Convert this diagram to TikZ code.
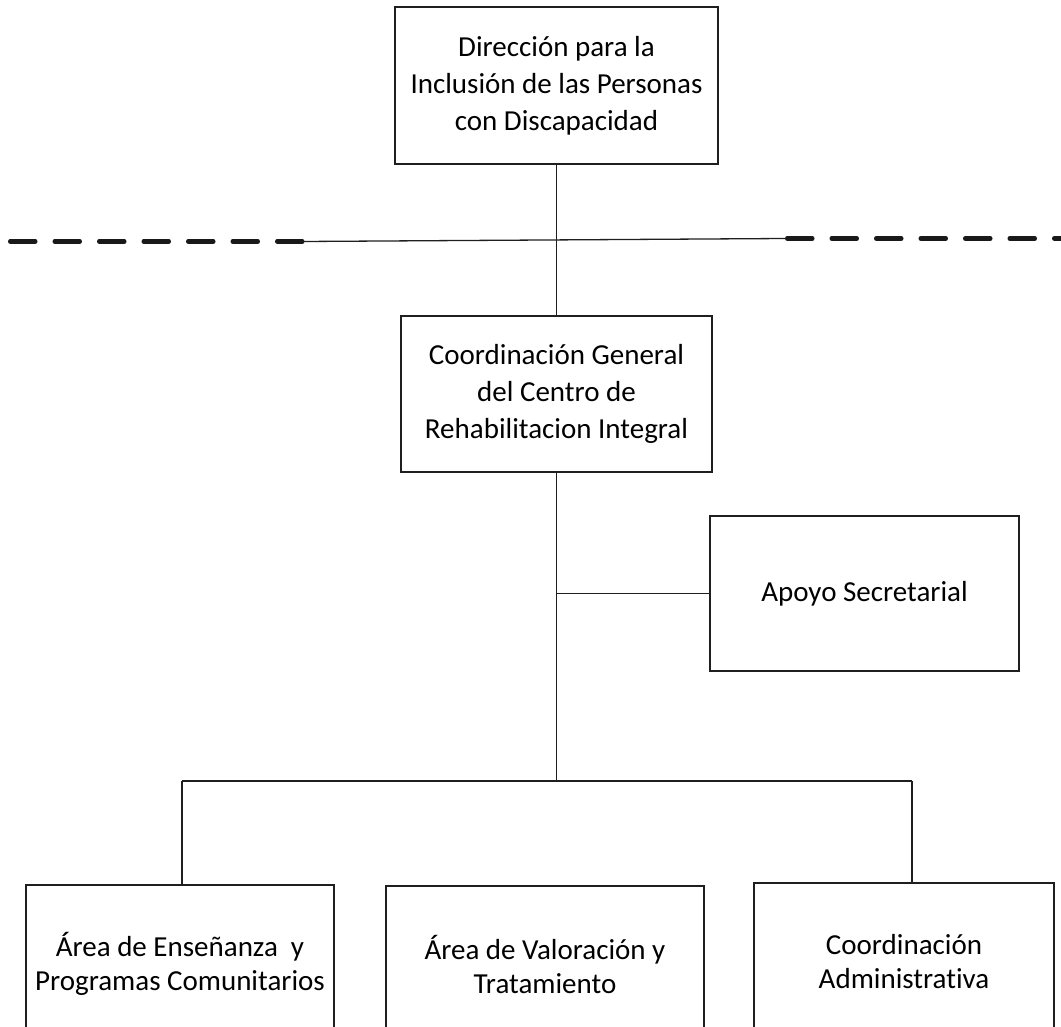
\documentclass[tikz,border=0pt]{standalone}
\usepackage{fontspec}
\setmainfont{Carlito}[Ligatures=NoCommon]
\begin{document}
\begin{tikzpicture}[x=1pt,y=-1pt,
  box/.style={draw=black!88, line width=1.6pt, align=center, inner sep=0pt,
    font=\fontsize{29}{37}\selectfont, text=black},
  lowbox/.style={box, font=\fontsize{29}{34}\selectfont},
  conn/.style={draw=black!88, line width=1.3pt},
  dashline/.style={draw=black!90, line width=4.5pt, line cap=round, dash pattern=on 25pt off 19.5pt}]
\useasboundingbox (0,0) rectangle (1061,1027);
\clip (0,0) rectangle (1061,1027);
\fill[white] (0,0) rectangle (1061,1027);

% boxes
\node[box, minimum width=323pt, minimum height=157pt] (dir) at (556.5,85.5)
  {Dirección para la\\Inclusión de las Personas\\con Discapacidad};
\node[box, minimum width=311pt, minimum height=156pt] (cg) at (556.5,394)
  {Coordinación General\\del Centro de\\Rehabilitacion Integral};
\node[box, minimum width=309pt, minimum height=155pt] (as) at (864.5,593.5)
  {Apoyo Secretarial};
\node[lowbox, minimum width=308pt, minimum height=157pt] (lb) at (180,963.5)
  {Área de Enseñanza~ y\\Programas Comunitarios};
\node[lowbox, minimum width=318pt, minimum height=157pt] (mb) at (545,964.5)
  {Área de Valoración y\\Tratamiento};
\node[lowbox, minimum width=300pt, minimum height=157pt] (ca) at (904,961.5)
  {Coordinación\\Administrativa};

% divider line
\coordinate (dl0) at (10.25,241.5);
\coordinate (dl1) at (303,241.5);
\coordinate (dr0) at (785,238.5);
\coordinate (dr1) at (1075,238.5);
\draw[dashline] (dl0) -- (dl1);
\draw[conn] (dl1) -- (dr0);
\draw[dashline] ([xshift=2.25pt]dr0) -- (dr1);

% connectors
\draw[conn] (dir.south) -- (cg.north);
\coordinate (bus) at (556.5,781);
\coordinate (busL) at (182,781);
\coordinate (busR) at (912,781);
\draw[conn] (cg.south) -- (bus);
\draw[conn] (cg.south |- as.west) -- (as.west);
\draw[conn] (busL) -- (busR);
\draw[conn] (busL) -- (busL |- lb.north);
\draw[conn] (busR) -- (busR |- ca.north);
\end{tikzpicture}
\end{document}
